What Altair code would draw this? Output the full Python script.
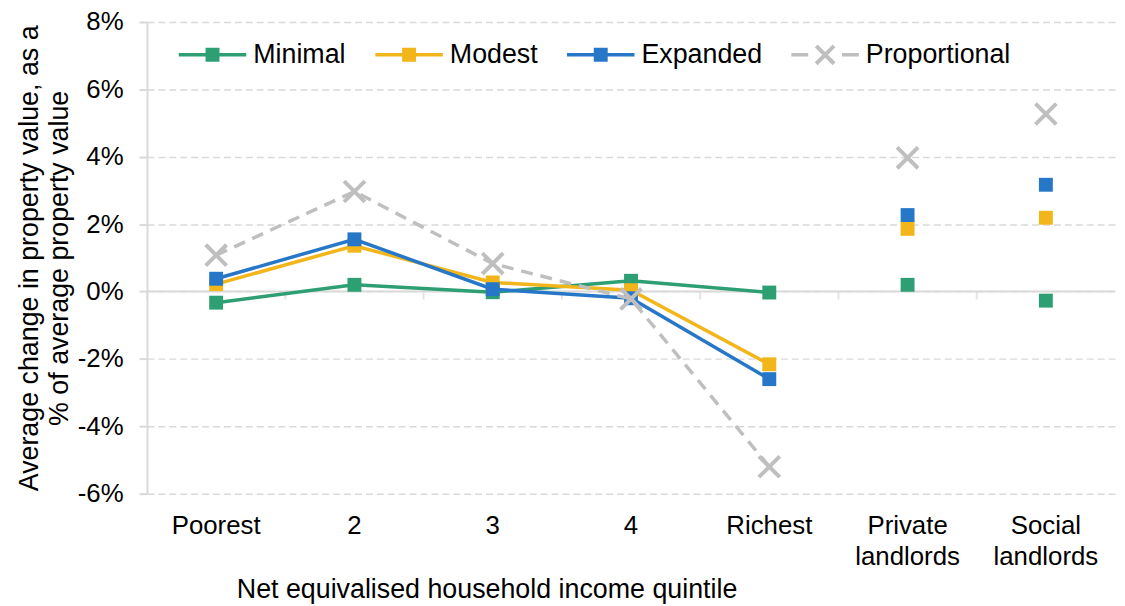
import altair as alt
import pandas as pd

# ---------------- data ----------------
categories = ["Poorest", "2", "3", "4", "Richest", "Private landlords", "Social landlords"]
series_names = ["Minimal", "Modest", "Expanded", "Proportional"]
minimal = [-0.33, 0.20, -0.02, 0.32, -0.03, 0.20, -0.27]
modest = [0.22, 1.36, 0.27, 0.04, -2.16, 1.86, 2.19]
expanded = [0.38, 1.55, 0.07, -0.20, -2.60, 2.27, 3.17]
proportional = [1.08, 2.97, 0.83, -0.22, -5.20, 3.97, 5.27]
y_ticks = [-6, -4, -2, 0, 2, 4, 6, 8]
n_quintiles = 5  # the first five categories are income quintiles, joined by lines

colors = ["#2E9E73", "#F2B51A", "#2677C8", "#BFBFBF"]

series_values = dict(zip(series_names, [minimal, modest, expanded, proportional]))
rows = []
for s in series_names:
    for i, (c, v) in enumerate(zip(categories, series_values[s])):
        rows.append({"category": c, "series": s, "value": v, "idx": i, "quintile": i < n_quintiles})
df = pd.DataFrame(rows)
bounds_df = pd.DataFrame({"category": categories, "base": [0.0] * len(categories)})
zero_df = pd.DataFrame({"base": [0.0]})

FONT = "Liberation Sans"
FS = 26
TFS = 27
GRID = "#D9D9D9"

x_scale = alt.Scale(domain=categories, type="band", paddingInner=0, paddingOuter=0)
y_scale = alt.Scale(domain=[-6, 8], nice=False, zero=False)
x_axis = alt.Axis(
    title="Net equivalised household income quintile",
    labelExpr="split(datum.label, ' ')",
    titleX=342, titleY=105, titleAlign="center", titleBaseline="alphabetic",
)
y_axis = alt.Axis(
    values=y_ticks,
    labelExpr="datum.value + '%'",
    title=["Average change in property value, as a", "% of average property value"],
)


def X(**kw):
    return alt.X("category:N", scale=x_scale, axis=x_axis, **kw)


def Y(field="value"):
    return alt.Y(f"{field}:Q", scale=y_scale, axis=y_axis)


# ---------------- legend symbol paths (line + marker) ----------------
def f(v):
    return f"{v:.3f}"


def rect(x0, x1, h):
    return f"M{f(x0)},{f(-h)}L{f(x1)},{f(-h)}L{f(x1)},{f(h)}L{f(x0)},{f(h)}Z"


half = 34.0
lh = 1.75 / half
sq = 7.0 / half
a = 9.0 / half
d = (2.0 / half) / (2 ** 0.5)
sq_path = rect(-1, 1, lh) + rect(-sq, sq, sq)
r1 = f"M{f(-a + d)},{f(-a - d)}L{f(a + d)},{f(a - d)}L{f(a - d)},{f(a + d)}L{f(-a - d)},{f(-a + d)}Z"
r2 = f"M{f(-a + d)},{f(a + d)}L{f(-a - d)},{f(a - d)}L{f(a - d)},{f(-a - d)}L{f(a + d)},{f(-a + d)}Z"
x_path = rect(-1, -0.5, lh) + rect(0.5, 1, lh) + r1 + r2
legend_paths = [sq_path, sq_path, sq_path, x_path]

XMARK = "M-1,-1L1,1M-1,1L1,-1"

# ---------------- layers ----------------
layers = []
zero_rule = alt.Chart(zero_df).mark_rule(color=GRID, strokeWidth=2).encode(y=Y("base"))
bound_ticks = alt.Chart(bounds_df).mark_tick(
    orient="vertical", size=8, thickness=2, yOffset=4, color=GRID
).encode(x=X(bandPosition=0), y=Y("base"))
layers += [zero_rule, bound_ticks]

for s, c in zip(series_names, colors):
    sub = alt.Chart(df).transform_filter(alt.datum.series == s)
    is_prop = s == "Proportional"
    line_kw = dict(color=c, strokeWidth=3.5)
    if is_prop:
        line_kw["strokeDash"] = [12, 8]
    line = sub.transform_filter(alt.datum.quintile).mark_line(**line_kw).encode(
        x=X(), y=Y(), order=alt.Order("idx:Q")
    )
    if is_prop:
        pts = sub.mark_point(shape=XMARK, size=441, strokeWidth=4, color=c, filled=False, opacity=1)
    else:
        pts = sub.mark_square(size=196, color=c, opacity=1)
    layers += [line, pts.encode(x=X(), y=Y())]

leg = alt.Legend(
    title=None, orient="none", legendX=32, legendY=-1, direction="horizontal",
    symbolSize=4624, symbolStrokeWidth=0, symbolOpacity=1,
    labelFont=FONT, labelFontSize=TFS, labelColor="#000000", labelOffset=7,
    columnPadding=29, padding=0, labelLimit=300,
)
legend_layer = alt.Chart(df).transform_filter("false").mark_point(filled=True, opacity=1).encode(
    x=X(), y=Y(),
    color=alt.Color("series:N", scale=alt.Scale(domain=series_names, range=colors), legend=leg),
    shape=alt.Shape("series:N", scale=alt.Scale(domain=series_names, range=legend_paths), legend=leg),
)
layers.append(legend_layer)

chart = (
    alt.layer(*layers)
    .properties(
        width=975, height=475,
        autosize=alt.AutoSizeParams(type="none"),
        padding={"left": 140, "top": 12, "right": 2, "bottom": 111},
        background="white",
    )
    .configure_view(stroke=None)
    .configure_axis(
        labelFont=FONT, titleFont=FONT, labelFontSize=FS, titleFontSize=TFS,
        labelColor="#000000", titleColor="#000000", titleFontWeight="normal",
    )
    .configure_axisY(
        grid=True, gridColor=GRID, gridDash=[7, 4], gridWidth=1.5,
        domainColor=GRID, domainWidth=2, tickColor=GRID, tickWidth=2, tickSize=8,
        labelPadding=16, titlePadding=4, titleLineHeight=30,
    )
    .configure_axisX(
        grid=False, domain=False, ticks=False, tickSize=0,
        labelPadding=19, labelLineHeight=31, labelAngle=0,
    )
)

chart.save("out.html", embed_options={"renderer": "svg", "actions": False})
